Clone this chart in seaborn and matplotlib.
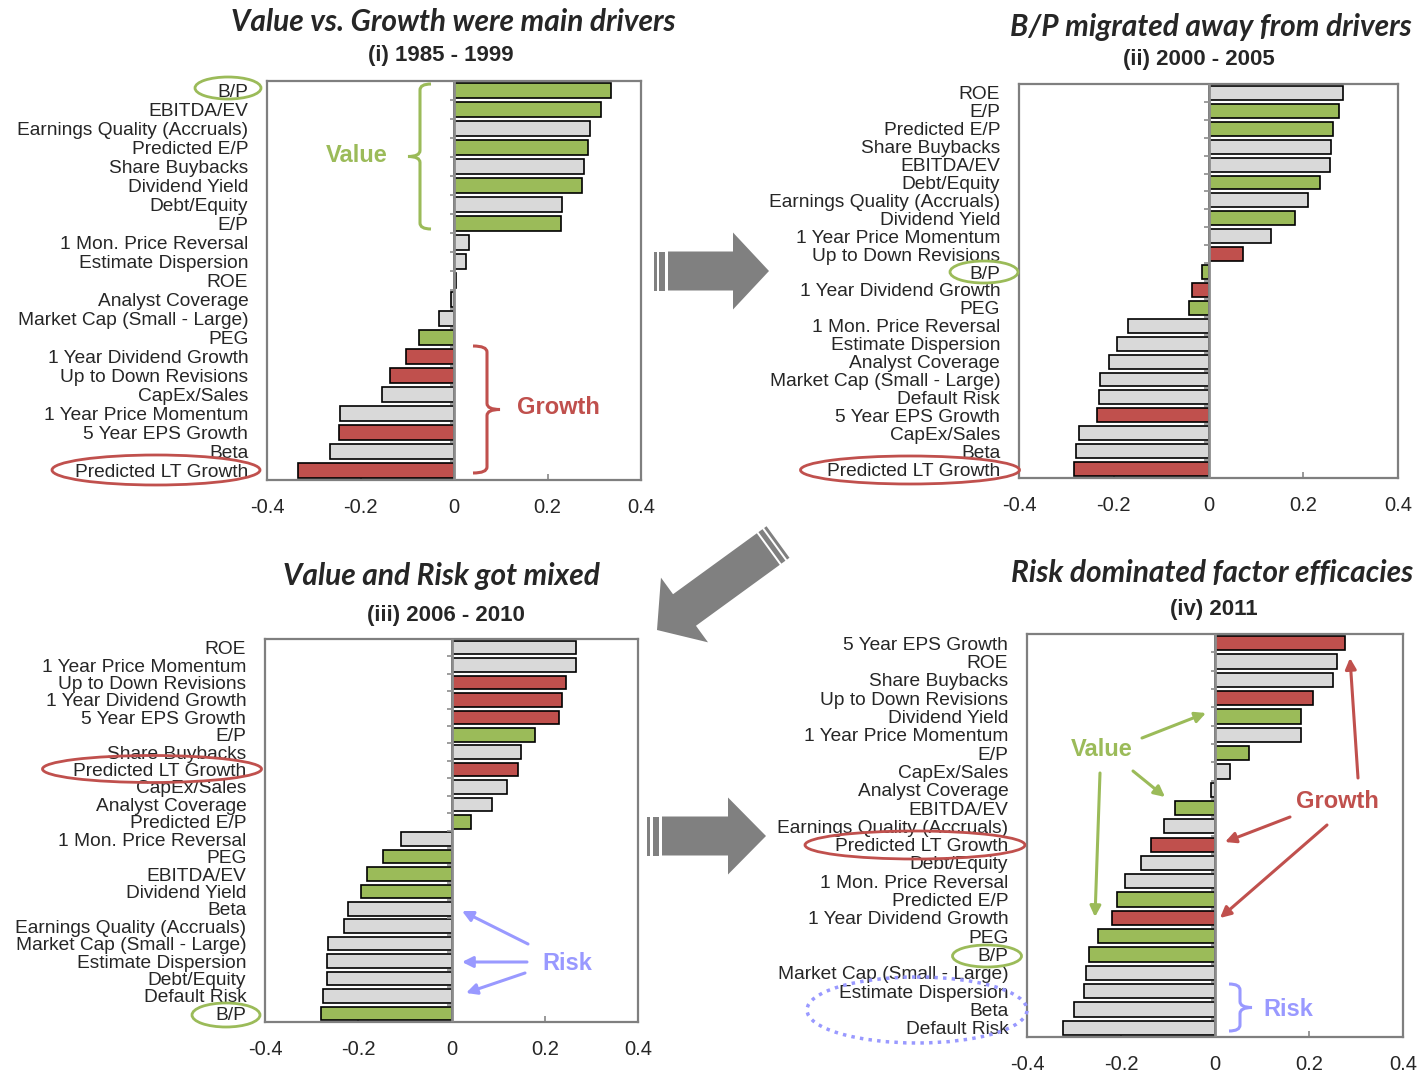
import numpy as np
import pandas as pd
import matplotlib
matplotlib.use("Agg")
import matplotlib.pyplot as plt
import seaborn as sns
from matplotlib.patches import Ellipse, Polygon, FancyArrowPatch, PathPatch
from matplotlib.path import Path
from matplotlib.transforms import Affine2D

sns.set_theme(style="white")
plt.rcParams["font.family"] = ["Liberation Sans", "DejaVu Sans"]

GREEN = "#9BBB59"
RED = "#C0504D"
GRAY = "#D9D9D9"
BLUE = "#9999FF"
CAT_COLORS = {"v": GREEN, "g": RED, "o": GRAY}

# ---------------- data ----------------
p1_labels = ["B/P", "EBITDA/EV", "Earnings Quality (Accruals)", "Predicted E/P", "Share Buybacks",
             "Dividend Yield", "Debt/Equity", "E/P", "1 Mon. Price Reversal", "Estimate Dispersion",
             "ROE", "Analyst Coverage", "Market Cap (Small - Large)", "PEG", "1 Year Dividend Growth",
             "Up to Down Revisions", "CapEx/Sales", "1 Year Price Momentum", "5 Year EPS Growth",
             "Beta", "Predicted LT Growth"]
p1_values = [0.335, 0.314, 0.291, 0.287, 0.279, 0.273, 0.232, 0.228, 0.032, 0.026, 0.004,
             -0.007, -0.033, -0.075, -0.102, -0.137, -0.154, -0.244, -0.247, -0.265, -0.333]
p1_cats = ["v", "v", "o", "v", "o", "v", "o", "v", "o", "o", "o", "o", "o", "v", "g", "g",
           "o", "o", "g", "o", "g"]

p2_labels = ["ROE", "E/P", "Predicted E/P", "Share Buybacks", "EBITDA/EV", "Debt/Equity",
             "Earnings Quality (Accruals)", "Dividend Yield", "1 Year Price Momentum",
             "Up to Down Revisions", "B/P", "1 Year Dividend Growth", "PEG", "1 Mon. Price Reversal",
             "Estimate Dispersion", "Analyst Coverage", "Market Cap (Small - Large)", "Default Risk",
             "5 Year EPS Growth", "CapEx/Sales", "Beta", "Predicted LT Growth"]
p2_values = [0.283, 0.276, 0.263, 0.259, 0.256, 0.235, 0.211, 0.183, 0.131, 0.073, -0.014,
             -0.035, -0.042, -0.170, -0.194, -0.211, -0.228, -0.231, -0.235, -0.273, -0.280, -0.284]
p2_cats = ["o", "v", "v", "o", "o", "v", "o", "v", "o", "g", "v", "g", "v", "o", "o", "o",
           "o", "o", "g", "o", "o", "g"]

p3_labels = ["ROE", "1 Year Price Momentum", "Up to Down Revisions", "1 Year Dividend Growth",
             "5 Year EPS Growth", "E/P", "Share Buybacks", "Predicted LT Growth", "CapEx/Sales",
             "Analyst Coverage", "Predicted E/P", "1 Mon. Price Reversal", "PEG", "EBITDA/EV",
             "Dividend Yield", "Beta", "Earnings Quality (Accruals)", "Market Cap (Small - Large)",
             "Estimate Dispersion", "Debt/Equity", "Default Risk", "B/P"]
p3_values = [0.266, 0.266, 0.245, 0.238, 0.231, 0.180, 0.149, 0.142, 0.118, 0.087, 0.042,
             -0.109, -0.147, -0.182, -0.195, -0.223, -0.230, -0.265, -0.268, -0.268, -0.275, -0.279]
p3_cats = ["o", "o", "g", "g", "g", "v", "o", "g", "o", "o", "v", "o", "v", "v", "v", "o",
           "o", "o", "o", "o", "o", "v"]

p4_labels = ["5 Year EPS Growth", "ROE", "Share Buybacks", "Up to Down Revisions", "Dividend Yield",
             "1 Year Price Momentum", "E/P", "CapEx/Sales", "Analyst Coverage", "EBITDA/EV",
             "Earnings Quality (Accruals)", "Predicted LT Growth", "Debt/Equity",
             "1 Mon. Price Reversal", "Predicted E/P", "1 Year Dividend Growth", "PEG", "B/P",
             "Market Cap (Small - Large)", "Estimate Dispersion", "Beta", "Default Risk"]
p4_values = [0.277, 0.259, 0.252, 0.208, 0.184, 0.184, 0.073, 0.032, -0.009, -0.085, -0.109,
             -0.137, -0.158, -0.192, -0.209, -0.220, -0.250, -0.268, -0.274, -0.278, -0.299, -0.323]
p4_cats = ["g", "o", "o", "g", "v", "o", "v", "o", "o", "v", "o", "g", "o", "o", "v", "g",
           "v", "v", "o", "o", "o", "o"]

xtick_vals = [-0.4, -0.2, 0, 0.2, 0.4]
xtick_labels = ["-0.4", "-0.2", "0", "0.2", "0.4"]

titles = ["Value vs. Growth were main drivers", "B/P migrated away from drivers",
          "Value and Risk got mixed", "Risk dominated factor efficacies"]
subtitles = ["(i) 1985 - 1999", "(ii) 2000 - 2005", "(iii) 2006 - 2010", "(iv) 2011"]

# ---------------- figure ----------------
W, H = 1419, 1073
fig = plt.figure(figsize=(W / 100, H / 100), dpi=100)
fig.patch.set_facecolor("white")
PX = Affine2D().scale(1.0 / W, -1.0 / H).translate(0, 1) + fig.transFigure


def ax_rect(l, t, r, b):
    return [l / W, 1 - b / H, (r - l) / W, (b - t) / H]


rects = [ax_rect(267, 81, 641, 480), ax_rect(1019, 84, 1398, 478),
         ax_rect(265, 639, 638, 1022), ax_rect(1027, 634, 1403, 1037)]
panels = [(p1_labels, p1_values, p1_cats), (p2_labels, p2_values, p2_cats),
          (p3_labels, p3_values, p3_cats), (p4_labels, p4_values, p4_cats)]

for rect, (labels, values, cats) in zip(rects, panels):
    ax = fig.add_axes(rect)
    df = pd.DataFrame({"factor": labels, "value": values})
    pal = {lab: CAT_COLORS[c] for lab, c in zip(labels, cats)}
    sns.barplot(data=df, x="value", y="factor", hue="factor", palette=pal, legend=False,
                orient="h", width=0.78, edgecolor="black", linewidth=1.2, saturation=1,
                ax=ax, zorder=2)
    n = len(labels)
    ax.set_xlim(-0.4, 0.4)
    ax.set_ylim(n - 0.5, -0.5)
    ax.axvline(0, color="#8C8C8C", lw=2, zorder=3)
    ax.hlines(np.arange(n - 1) + 0.5, -0.009, 0, color="#8C8C8C", lw=1.2, zorder=3)
    ax.set_xticks(xtick_vals)
    ax.set_xticklabels(xtick_labels, fontsize=14.5)
    ax.set_xlabel("")
    ax.set_ylabel("")
    ax.tick_params(axis="x", direction="in", length=4, color="#8C8C8C", pad=13, bottom=True)
    ax.tick_params(axis="y", length=0, pad=13.5, labelsize=13.8)
    for s in ax.spines.values():
        s.set_color("#7F7F7F")
        s.set_linewidth(1.6)
    ax.grid(False)

# titles
tfont = dict(family=["Lato", "DejaVu Sans"], fontweight="bold", fontstyle="italic", fontsize=21.5)
for (x, y), t in zip([(453, 22), (1211, 27), (441, 576), (1212, 573)], titles):
    fig.text(x / W, 1 - y / H, t, ha="center", va="center", **tfont)
for (x, y), t in zip([(441, 56), (1199, 59), (446, 616), (1214, 610)], subtitles):
    fig.text(x / W, 1 - y / H, t, ha="center", va="center", fontsize=16, fontweight="bold")


# ---------------- annotations ----------------
def ellipse(cx, cy, w, h, color, ls="-", lw=2.0):
    fig.add_artist(Ellipse((cx, cy), w, h, fill=False, edgecolor=color, lw=lw, ls=ls,
                           transform=PX))


def brace(xv, y0, y1, xt, xh, color, r=6, lw=2.2):
    ym = (y0 + y1) / 2
    verts = [(xh, y0), (xv, y0), (xv, y0 + r), (xv, ym - r), (xv, ym), (xt, ym),
             (xv, ym), (xv, ym + r), (xv, y1 - r), (xv, y1), (xh, y1)]
    codes = [Path.MOVETO, Path.CURVE3, Path.CURVE3, Path.LINETO, Path.CURVE3, Path.CURVE3,
             Path.CURVE3, Path.CURVE3, Path.LINETO, Path.CURVE3, Path.CURVE3]
    fig.add_artist(PathPatch(Path(verts, codes), fill=False, edgecolor=color, lw=lw,
                             transform=PX))


def arrow(x0, y0, x1, y1, color, lw=2.2):
    fig.add_artist(FancyArrowPatch((x0, y0), (x1, y1), arrowstyle="-|>", mutation_scale=16,
                                   color=color, lw=lw, shrinkA=0, shrinkB=0, transform=PX))


def label(x, y, s, color):
    fig.text(x / W, 1 - y / H, s, color=color, fontsize=17, fontweight="bold",
             ha="center", va="center")


def block_arrow(tail, tip, hwb=19.5, hwh=38.5, head=36, stripes=((0, 3), (5, 11)), start=14,
                color="#808080"):
    t = np.array(tail, float)
    p = np.array(tip, float)
    L = np.linalg.norm(p - t)
    u = (p - t) / L
    nrm = np.array([-u[1], u[0]])

    def pt(s, d):
        return t + u * s + nrm * d

    for a, b in stripes:
        fig.add_artist(Polygon([pt(a, -hwb), pt(b, -hwb), pt(b, hwb), pt(a, hwb)],
                               closed=True, color=color, lw=0, transform=PX))
    hb = L - head
    poly = [pt(start, -hwb), pt(hb, -hwb), pt(hb, -hwh), pt(L, 0), pt(hb, hwh), pt(hb, hwb),
            pt(start, hwb)]
    fig.add_artist(Polygon(poly, closed=True, color=color, lw=0, transform=PX))


# panel 1
ellipse(228, 88, 66, 22, GREEN)
ellipse(156, 470, 208, 30, RED)
brace(420, 84, 229, 408, 431, GREEN)
label(357, 155, "Value", GREEN)
brace(487, 346, 473, 500, 473, RED)
label(558, 408, "Growth", RED)

# panel 2
ellipse(984, 272, 68, 22, GREEN)
ellipse(910, 470, 219, 28, RED)

# panel 3
ellipse(152, 769, 219, 27, RED)
ellipse(226, 1015, 68, 24, GREEN)
arrow(528, 944, 462, 911, BLUE)
arrow(527, 962, 462, 962, BLUE)
arrow(525, 973, 466, 993, BLUE)
label(567, 963, "Risk", BLUE)

# panel 4
ellipse(915, 845, 220, 28, RED)
ellipse(987, 956, 69, 22, GREEN)
ellipse(917, 1010, 220, 66, BLUE, ls=(0, (1, 1.5)), lw=2.5)
brace(1240, 984, 1031, 1252, 1229, BLUE)
label(1288, 1010, "Risk", BLUE)
label(1102, 749, "Value", GREEN)
arrow(1142, 738, 1206, 713, GREEN)
arrow(1133, 771, 1165, 797, GREEN)
arrow(1100, 773, 1095, 917, GREEN)
label(1337, 801, "Growth", RED)
arrow(1358, 778, 1350, 658, RED)
arrow(1290, 817, 1225, 842, RED)
arrow(1327, 825, 1220, 918, RED)

# big grey block arrows
block_arrow((654, 271), (769, 271))
block_arrow((778, 542), (657, 630), hwh=40, head=34, stripes=((0, 3), (5, 10)), start=12)
block_arrow((647, 836), (766, 836), stripes=((0, 3), (6, 12)), start=15, head=38)

fig.savefig("out.png", dpi=100, facecolor="white")
